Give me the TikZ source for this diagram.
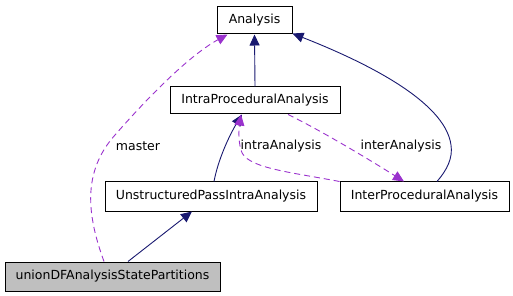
\documentclass[tikz,border=0pt]{standalone}
\usepackage{fontspec}
\setmainfont{DejaVu Sans}
\usetikzlibrary{arrows.meta}
\definecolor{edgeblue}{HTML}{191970}
\definecolor{edgepurple}{HTML}{9A32CD}
\definecolor{boxgray}{HTML}{BFBFBF}
\begin{document}
\begin{tikzpicture}[x=1pt,y=-1pt,
  font=\fontsize{12.5}{14}\selectfont,
  cls/.style={draw=black,line width=1pt,fill=white,inner sep=0pt,minimum height=27pt,anchor=center},
  inherit/.style={draw=edgeblue,line width=0.9pt,-{Triangle[length=11pt,width=10pt]}},
  usage/.style={draw=edgepurple,line width=0.9pt,dash pattern=on 6pt off 4pt,-{Triangle[length=11pt,width=10pt]}},
  lbl/.style={inner sep=1pt}]
\useasboundingbox (0,0) rectangle (513,296);
% classes
\node[cls,minimum width=75pt] (ana) at (254.5,20.5) {Analysis};
\node[cls,minimum width=170pt] (intra) at (255,100.5) {IntraProceduralAnalysis};
\node[cls,minimum width=212pt,minimum height=29pt] (uns) at (211,196.5) {UnstructuredPassIntraAnalysis};
\node[cls,minimum width=169pt,minimum height=29pt] (inter) at (424.5,196.5) {InterProceduralAnalysis};
\node[cls,minimum width=215pt,minimum height=29pt,fill=boxgray] (uni) at (112.5,276.5) {unionDFAnalysisStatePartitions};
% inheritance
\draw[inherit] (intra.north) -- (ana.south);
\draw[inherit] ([xshift=12.5pt]inter.north) .. controls (447,170) and (453,158) .. (451,145)
  .. controls (445,100) and (360,60) .. ([xshift=0pt,yshift=1pt]ana.south east);
\draw[inherit] ([xshift=3pt]uns.north) .. controls (218,160) and (229,136) .. ([xshift=-13pt]intra.south);
\draw[inherit] ([xshift=15.5pt]uni.north) -- ([xshift=-19pt]uns.south);
% usage
\draw[usage] ([xshift=-8.5pt]uni.north) .. controls (87,215) and (82,172) .. (115,135)
  .. controls (150,95) and (190,55) .. ([xshift=-27pt]ana.south);
\draw[usage] (inter.north west) .. controls (290,172) and (245,168) .. (241,150)
  .. controls (238,140) and (239,128) .. ([xshift=-14pt]intra.south);
\draw[usage] ([xshift=33pt]intra.south) .. controls (320,130) and (370,160) .. ([xshift=-20.5pt]inter.north);
% labels
\node[lbl] (lm) at (138,146) {master};
\node[lbl] (la) at (281,146) {intraAnalysis};
\node[lbl] (le) at (401,146) {interAnalysis};
\end{tikzpicture}
\end{document}
